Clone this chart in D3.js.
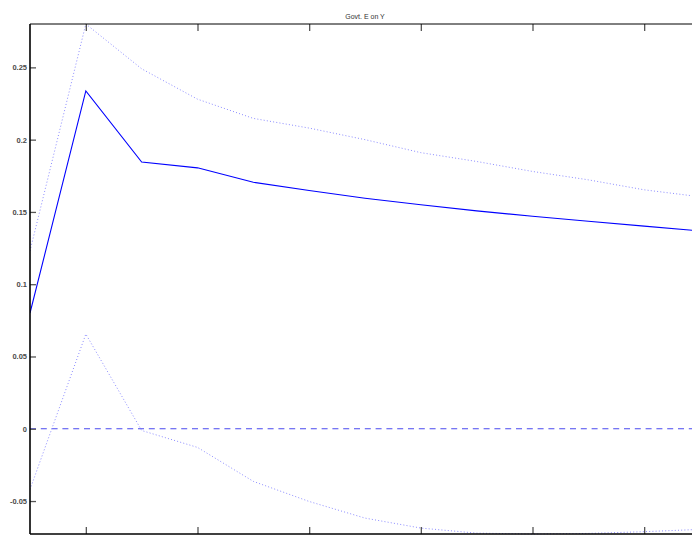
<!DOCTYPE html>
<html>
<head>
<meta charset="utf-8">
<script src="https://cdn.jsdelivr.net/npm/d3@7"></script>
<style>
  body { margin: 0; background: #fff; }
  svg { display: block; font-family: "Liberation Sans", Arial, sans-serif; }
</style>
</head>
<body>
<script>
// impulse response, horizon 1..13
const periods = [1, 2, 3, 4, 5, 6, 7, 8, 9, 10, 11, 12, 13]
const response = [0.080, 0.2337, 0.1845, 0.1805, 0.1705, 0.1648, 0.1595, 0.1550, 0.1507, 0.1470, 0.1436, 0.1402, 0.1368]
const upperBand = [0.123, 0.2800, 0.2490, 0.2280, 0.2147, 0.2080, 0.2000, 0.1910, 0.1849, 0.1780, 0.1722, 0.1653, 0.1605]
const lowerBand = [-0.042, 0.0655, -0.0012, -0.0129, -0.0364, -0.0503, -0.0618, -0.0687, -0.0722, -0.0728, -0.0724, -0.0712, -0.0696]

const xTicks = [2, 4, 6, 8, 10, 12]
const yTicks = [-0.05, 0, 0.05, 0.1, 0.15, 0.2, 0.25]
const yLimits = [-0.0728, 0.2800]

const title = 'Govt. E on Y'

const w = 692
const h = 540
const axLeft = 30
const axTop = 24
const axBottom = 534
const axRight = 700

const x = d3.scaleLinear()
            .domain([periods[0], periods[periods.length - 1]])
            .range([axLeft, axRight])

const y = d3.scaleLinear()
            .domain(yLimits)
            .range([axBottom, axTop])

const svg = d3.select('body')
                .append('svg')
                .attr('width', w)
                .attr('height', h)

svg.append('defs')
    .append('clipPath')
    .attr('id', 'plot-clip')
    .append('rect')
    .attr('x', axLeft)
    .attr('y', axTop - 1)
    .attr('width', axRight - axLeft)
    .attr('height', axBottom - axTop + 2)

const line = d3.line()
                .x((d, i) => x(periods[i]))
                .y(d => y(d))

const plot = svg.append('g').attr('clip-path', 'url(#plot-clip)')

// zero line
plot.append('line')
    .attr('x1', x(periods[0]))
    .attr('x2', x(periods[periods.length - 1]))
    .attr('y1', y(0))
    .attr('y2', y(0))
    .attr('stroke', '#4a4af0')
    .attr('stroke-width', 1.2)
    .attr('stroke-dasharray', '6,4.8')

// confidence bands
plot.selectAll('path.band')
    .data([upperBand, lowerBand])
    .enter()
    .append('path')
    .attr('class', 'band')
    .attr('d', line)
    .attr('fill', 'none')
    .attr('stroke', '#8c8cff')
    .attr('stroke-width', 1)
    .attr('stroke-dasharray', '1,2.2')

plot.append('path')
    .datum(response)
    .attr('d', line)
    .attr('fill', 'none')
    .attr('stroke', '#0000ff')
    .attr('stroke-width', 1.1)

// axes box
const yAxis = d3.axisLeft(y)
                .tickValues(yTicks)
                .tickSize(-6)
                .tickPadding(3)
                .tickFormat(d => String(d))

const gy = svg.append('g')
    .attr('transform', `translate(${axLeft},0)`)
    .call(yAxis)

gy.select('.domain').remove()

const xTop = d3.axisTop(x)
                .tickValues(xTicks)
                .tickSize(-7)
                .tickFormat('')

const gxTop = svg.append('g')
    .attr('transform', `translate(0,${axTop})`)
    .call(xTop)

gxTop.select('.domain').remove()

// bottom labels sit mostly below the picture edge, as in the source figure
const xBottom = d3.axisBottom(x)
                .tickValues(xTicks)
                .tickSize(-7)
                .tickPadding(11)
                .tickFormat(d => String(d))

const gxBottom = svg.append('g')
    .attr('transform', `translate(0,${axBottom})`)
    .call(xBottom)

gxBottom.select('.domain').remove()

svg.selectAll('.tick line')
    .attr('stroke', '#555')
    .attr('stroke-width', 1.3)

svg.selectAll('.tick text')
    .attr('fill', '#4a4a4a')
    .style('font-size', '7.5px')
    .style('font-weight', 'bold')

svg.append('line')
    .attr('x1', axLeft).attr('x2', w)
    .attr('y1', axTop).attr('y2', axTop)
    .attr('stroke', '#000')
    .attr('stroke-width', 1)

svg.append('line')
    .attr('x1', axLeft).attr('x2', w)
    .attr('y1', axBottom).attr('y2', axBottom)
    .attr('stroke', '#000')
    .attr('stroke-width', 1.3)

svg.append('line')
    .attr('x1', axLeft).attr('x2', axLeft)
    .attr('y1', axTop).attr('y2', axBottom)
    .attr('stroke', '#000')
    .attr('stroke-width', 1.6)

svg.append('text')
    .attr('x', (axLeft + axRight) / 2)
    .attr('y', 19)
    .attr('text-anchor', 'middle')
    .attr('fill', '#333')
    .style('font-size', '7px')
    .text(title)
</script>
</body>
</html>
